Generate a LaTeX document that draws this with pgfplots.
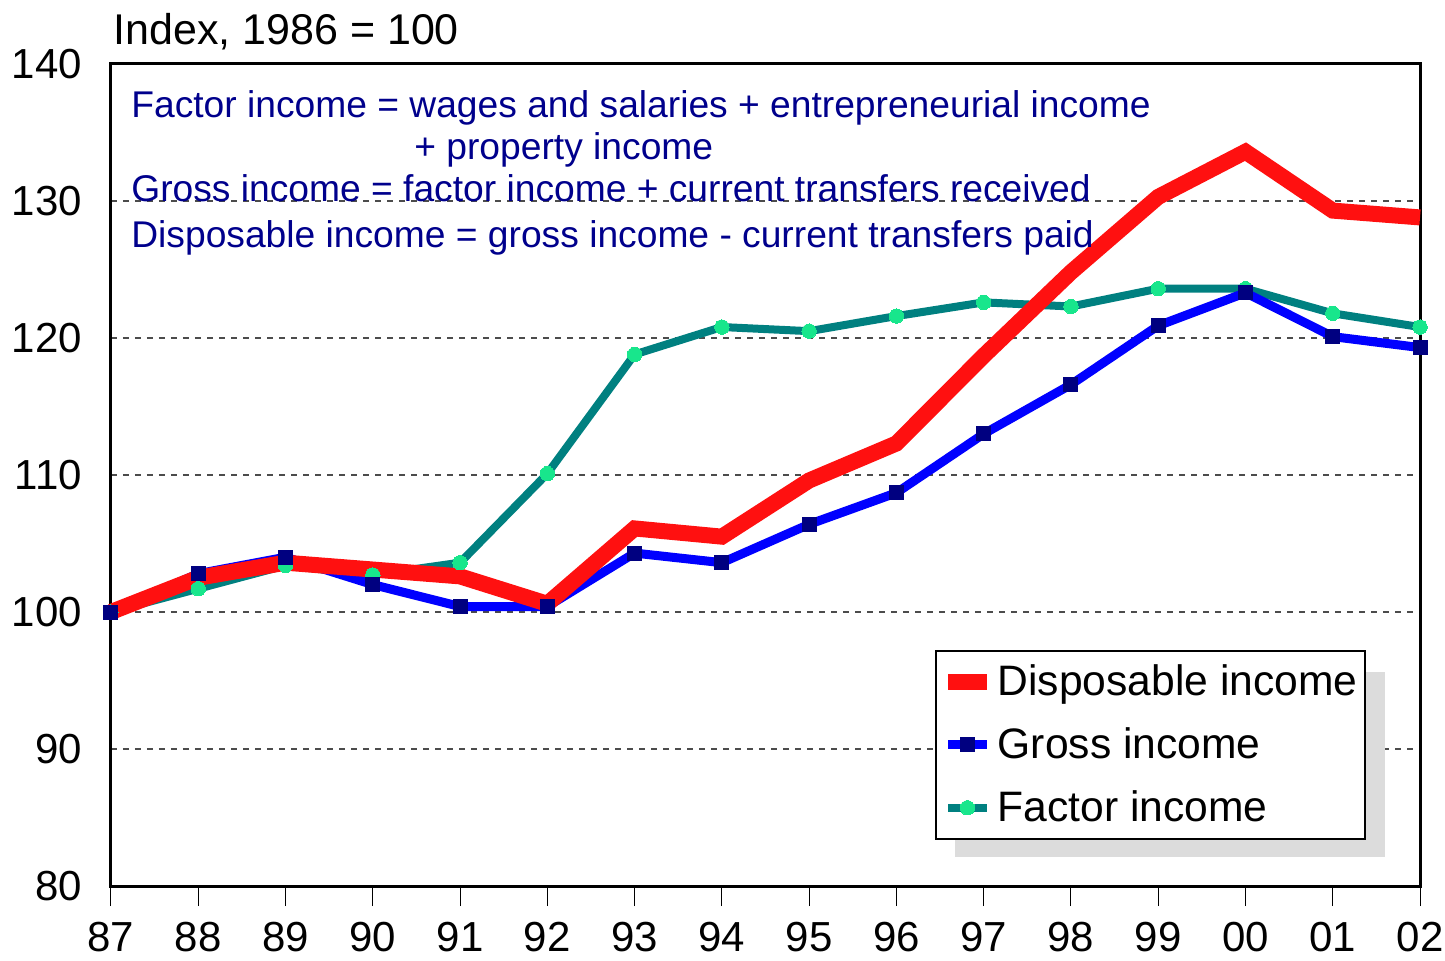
\documentclass[border=0pt]{standalone}
\usepackage{pgfplots}
\pgfplotsset{compat=1.18}
\usepackage{fontspec}
\setmainfont{Liberation Sans}
\definecolor{dispred}{RGB}{255,16,16}
\definecolor{grossblue}{RGB}{0,0,255}
\definecolor{grossmark}{RGB}{0,0,128}
\definecolor{factteal}{RGB}{0,128,128}
\definecolor{factmark}{RGB}{24,230,140}
\definecolor{notenavy}{RGB}{0,0,140}
\definecolor{shadowgray}{RGB}{220,220,220}
\begin{document}
\begin{tikzpicture}
\useasboundingbox (-55.5pt,-37pt) rectangle (667pt,443pt);
\begin{axis}[
  at={(0,0)}, anchor=south west,
  scale only axis, width=654.5pt, height=411pt,
  xmin=0, xmax=15, ymin=80, ymax=140,
  xtick={0,...,15},
  xticklabels={87,88,89,90,91,92,93,94,95,96,97,98,99,00,01,02},
  ytick={80,90,...,140},
  tick align=outside,
  xtick pos=bottom,
  major tick length=10pt,
  xtick style={black, line width=0.5pt},
  ytick style={draw=none},
  ymajorgrids,
  grid style={dashed, black!70, line width=0.6pt},
  axis line style={line width=1.5pt},
  tick label style={font=\fontsize{21}{25}\selectfont},
  /pgf/number format/assume math mode=true,
  yticklabel style={xshift=-1pt},
  xticklabel style={yshift=-4.5pt},
  clip=false,
  reverse legend,
  legend cell align=left,
  legend image code/.code={\draw[mark repeat=2,mark phase=2] plot coordinates {(0cm,0cm) (0.34cm,0cm) (0.68cm,0cm)};},
  legend style={at={(rel axis cs:0.6295,0.287)}, anchor=north west,
    font=\fontsize{21.3}{25}\selectfont, draw=black, line width=1pt, fill=white,
    inner xsep=2pt, inner ysep=5pt, row sep=10.5pt,
    nodes={inner xsep=1.5pt}},
]
\addplot[factteal, line width=4pt, mark=*, mark size=3.6pt, mark options={fill=factmark, draw=factmark, line width=0pt}]
  coordinates {(0,100) (1,101.7) (2,103.4) (3,102.7) (4,103.6) (5,110.1) (6,118.8) (7,120.8) (8,120.5) (9,121.6) (10,122.6) (11,122.3) (12,123.6) (13,123.6) (14,121.8) (15,120.8)};
\addlegendentry{Factor income}
\addplot[grossblue, line width=4.5pt, mark=square*, mark size=3.5pt, mark options={fill=grossmark, draw=grossmark, line width=0pt}]
  coordinates {(0,100) (1,102.8) (2,104.0) (3,102.0) (4,100.4) (5,100.4) (6,104.3) (7,103.6) (8,106.4) (9,108.7) (10,113.0) (11,116.6) (12,120.9) (13,123.3) (14,120.1) (15,119.3)};
\addlegendentry{Gross income}
\addplot[dispred, line width=8pt, line join=miter]
  coordinates {(0,100) (1,102.5) (2,103.6) (3,103.1) (4,102.6) (5,100.6) (6,106.1) (7,105.5) (8,109.6) (9,112.3) (10,118.7) (11,124.8) (12,130.3) (13,133.6) (14,129.3) (15,128.8)};
\addlegendentry{Disposable income}
\fill[shadowgray] (rel axis cs:0.6448,0.0353) rectangle (rel axis cs:0.9733,0.2603);
\node[anchor=base west, inner sep=0pt, font=\fontsize{21.5}{25}\selectfont] at (rel axis cs:0,1) [yshift=9.5pt, xshift=1pt] {Index, 1986 = 100};
\begin{scope}[every node/.style={anchor=base west, inner sep=0pt, text=notenavy, font=\fontsize{18.6}{22}\selectfont}]
\node at (axis cs:0.229,136.06) {Factor income = wages and salaries + entrepreneurial income};
\node at (axis cs:3.472,133.0) {+ property income};
\node at (axis cs:0.229,129.93) {Gross income = factor income + current transfers received};
\node at (axis cs:0.229,126.64) {Disposable income = gross income - current transfers paid};
\end{scope}
\end{axis}
\end{tikzpicture}
\end{document}
